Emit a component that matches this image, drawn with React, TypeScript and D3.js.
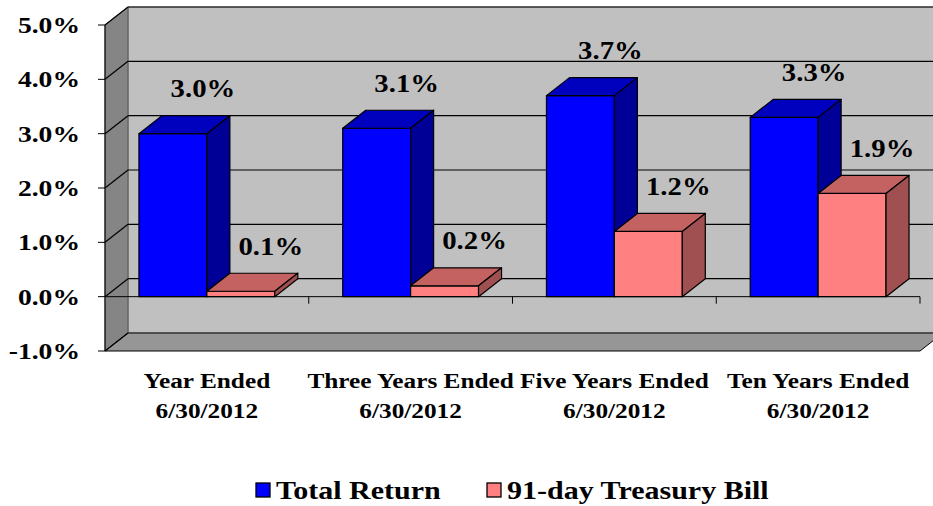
import * as d3 from "d3";

const categories = [
  ["Year Ended", "6/30/2012"],
  ["Three Years Ended", "6/30/2012"],
  ["Five Years Ended", "6/30/2012"],
  ["Ten Years Ended", "6/30/2012"],
];
const seriesNames = ["Total Return", "91-day Treasury Bill"];
const totalReturn = [3.0, 3.1, 3.7, 3.3];
const treasuryBill = [0.1, 0.2, 1.2, 1.9];
const yTicks = [-1, 0, 1, 2, 3, 4, 5];

const W = 933;
const H = 506;
const left = 105;
const right = 920;
const top = 25;
const bottom = 351;
const depthX = 23;
const depthY = 18;
const font = "Liberation Serif, Times New Roman, serif";

const faces = [
  { front: "#0000ff", top: "#0000bf", side: "#000096" },
  { front: "#ff8080", top: "#c46262", side: "#a05050" },
];

// stretched bold serif text, like the old excel export
function Txt({ x, y, size, anchor = "middle", dy = "0", sx = 1.15, children }: any) {
  return (
    <g transform={`translate(${x},${y}) scale(${sx},1)`}>
      <text
        textAnchor={anchor}
        dy={dy}
        fontFamily={font}
        fontWeight="bold"
        fontSize={size}
        fill="#000"
      >
        {children}
      </text>
    </g>
  );
}

export default function App() {
  const y = d3.scaleLinear().domain([-1, 5]).range([bottom, top]);
  const keys = categories.map((c) => c.join(" "));
  const x = d3.scaleBand().domain(keys).range([left, right]).padding(0);
  const xs = d3
    .scaleBand()
    .domain(seriesNames)
    .range([0, x.step()])
    .paddingInner(0)
    .paddingOuter(0.5);
  const fmt = (v: number) => d3.format(".1f")(v).replace("−", "-") + "%";
  const y0 = y(0);

  const bars: any[] = [];
  keys.forEach((k, i) => {
    [totalReturn[i], treasuryBill[i]].forEach((v, s) => {
      const x0 = (x(k) ?? 0) + (xs(seriesNames[s]) ?? 0);
      const x1 = x0 + xs.bandwidth();
      const yt = y(v);
      bars.push({ key: `${i}-${s}`, x0, x1, yt, v, s });
    });
  });

  const backRight = right + depthX;

  return (
    <svg
      width={W}
      height={H}
      viewBox={`0 0 ${W} ${H}`}
      style={{ position: "absolute", left: 0, top: 0, background: "#fff" }}
    >
      {/* back wall */}
      <rect
        x={left + depthX}
        y={top - depthY}
        width={backRight - left - depthX}
        height={bottom - top}
        fill="#c0c0c0"
        stroke="#808080"
      />
      {/* side wall */}
      <polygon
        points={`${left},${top} ${left + depthX},${top - depthY} ${left + depthX},${bottom - depthY} ${left},${bottom}`}
        fill="#858585"
        stroke="#555"
      />
      {/* floor */}
      <polygon
        points={`${left},${bottom} ${right},${bottom} ${backRight},${bottom - depthY} ${left + depthX},${bottom - depthY}`}
        fill="#969696"
        stroke="#000"
      />
      {/* gridlines */}
      {yTicks.map((t) => (
        <g key={t}>
          {t > -1 && (
            <line
              x1={left + depthX}
              x2={backRight}
              y1={y(t) - depthY}
              y2={y(t) - depthY}
              stroke="#000"
              strokeWidth={1.2}
            />
          )}
          <line
            x1={left}
            x2={left + depthX}
            y1={y(t)}
            y2={y(t) - depthY}
            stroke="#000"
            strokeWidth={1.2}
          />
          <line x1={left - 7} x2={left} y1={y(t)} y2={y(t)} stroke="#000" />
          <Txt x={80} y={y(t)} size={24} anchor="end" dy="0.34em">
            {fmt(t)}
          </Txt>
        </g>
      ))}
      <line x1={left} x2={left} y1={top} y2={bottom} stroke="#000" />
      {/* category axis at zero */}
      <line x1={left} x2={right} y1={y0} y2={y0} stroke="#000" />
      {keys.map((k) => (
        <line
          key={k}
          x1={(x(k) ?? 0) + x.step()}
          x2={(x(k) ?? 0) + x.step()}
          y1={y0}
          y2={y0 + 7}
          stroke="#000"
        />
      ))}
      {/* bars */}
      {bars.map((b) => {
        const c = faces[b.s];
        return (
          <g key={b.key} stroke="#000" strokeWidth={1.2} strokeLinejoin="round">
            <rect x={b.x0} y={b.yt} width={b.x1 - b.x0} height={y0 - b.yt} fill={c.front} />
            <polygon
              points={`${b.x0},${b.yt} ${b.x1},${b.yt} ${b.x1 + depthX},${b.yt - depthY} ${b.x0 + depthX},${b.yt - depthY}`}
              fill={c.top}
            />
            <polygon
              points={`${b.x1},${b.yt} ${b.x1 + depthX},${b.yt - depthY} ${b.x1 + depthX},${y0 - depthY} ${b.x1},${y0}`}
              fill={c.side}
            />
          </g>
        );
      })}
      {/* value labels */}
      {bars.map((b) => (
        <Txt key={b.key} x={(b.x0 + b.x1) / 2 + 30} y={b.yt - 45} size={25} dy="0.34em">
          {fmt(b.v)}
        </Txt>
      ))}
      {/* category labels */}
      {categories.map((c, i) => {
        const cx = (x(keys[i]) ?? 0) + x.step() / 2;
        return (
          <g key={keys[i]}>
            <Txt x={cx} y={388} size={22}>
              {c[0]}
            </Txt>
            <Txt x={cx} y={418} size={22}>
              {c[1]}
            </Txt>
          </g>
        );
      })}
      {/* legend */}
      {seriesNames.map((n, s) => {
        const lx = s === 0 ? 256 : 487;
        return (
          <g key={n}>
            <rect x={lx} y={483} width={14} height={14} fill={faces[s].front} stroke="#000" strokeWidth={1.3} />
            <Txt x={lx + 20} y={499} size={25} sx={1.2} anchor="start">
              {n}
            </Txt>
          </g>
        );
      })}
    </svg>
  );
}
